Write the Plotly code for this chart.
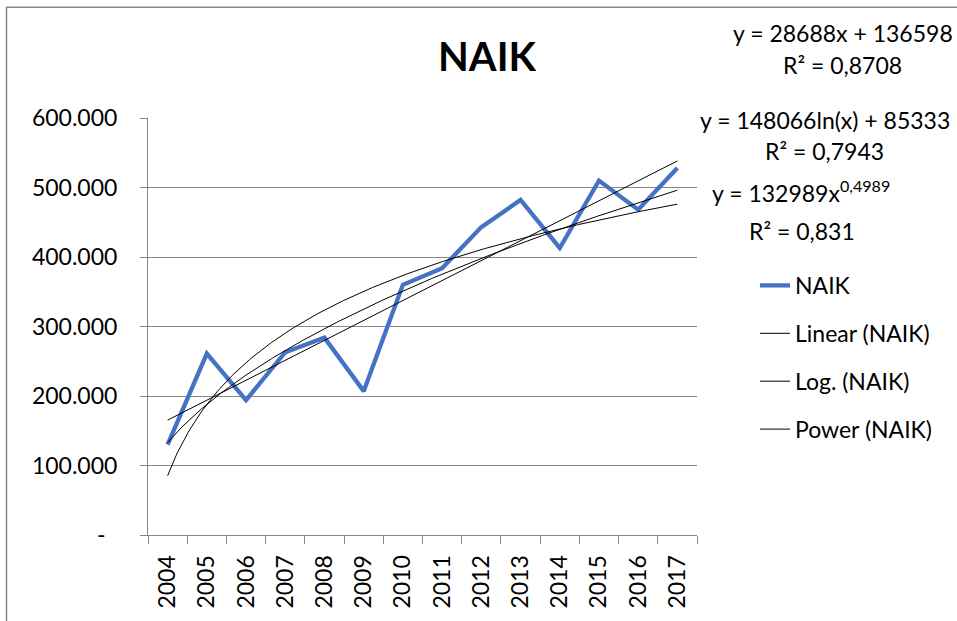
import numpy as np
import plotly.graph_objects as go

# ---- data ----
years = ["2004", "2005", "2006", "2007", "2008", "2009", "2010",
         "2011", "2012", "2013", "2014", "2015", "2016", "2017"]
naik = [130000, 261000, 194000, 263000, 284000, 207000, 360000,
        384000, 443000, 482000, 413000, 510000, 468000, 528000]

# trendline coefficients as displayed on the chart
lin_coef = [28688, 136598]      # y = a*x + b
log_coef = [148066, 85333]      # y = a*ln(x) + b
pow_coef = [132989, 0.4989]     # y = a*x^b
r2_values = ["0,8708", "0,7943", "0,831"]

y_tickvals = [0, 100000, 200000, 300000, 400000, 500000, 600000]
y_ticktext = ["-\u00a0\u00a0", "100.000", "200.000", "300.000", "400.000", "500.000", "600.000"]

# ---- layout geometry ----
W, H = 957, 621
L, R, T, B = 148, 697, 118, 538


def px(x):
    return (x - L) / (R - L)


def py(y):
    return (B - y) / (B - T)


xpos = np.arange(1, len(years) + 1)
xs = np.linspace(1, len(years), 300)
lin_y = lin_coef[0] * xs + lin_coef[1]
log_y = log_coef[0] * np.log(xs) + log_coef[1]
pow_y = pow_coef[0] * xs ** pow_coef[1]

FONT = "Lato"
GRID = "#878787"

fig = go.Figure()
fig.add_trace(go.Scatter(x=xpos, y=naik, mode="lines", name="NAIK",
                         line=dict(color="#4472C4", width=4.3), legendgroup="a"))
fig.add_trace(go.Scatter(x=xs, y=lin_y, mode="lines", name="Linear (NAIK)",
                         line=dict(color="black", width=1), legendgroup="b"))
fig.add_trace(go.Scatter(x=xs, y=log_y, mode="lines", name="Log. (NAIK)",
                         line=dict(color="black", width=1), legendgroup="c"))
fig.add_trace(go.Scatter(x=xs, y=pow_y, mode="lines", name="Power (NAIK)",
                         line=dict(color="black", width=1), legendgroup="d"))

eq_texts = [
    (f"y = {lin_coef[0]}x + {lin_coef[1]}", 843, 32),
    (f"R² = {r2_values[0]}", 842, 65),
    (f"y = {log_coef[0]}ln(x) + {log_coef[1]}", 824.5, 120),
    (f"R² = {r2_values[1]}", 824, 151),
    (f"y = {pow_coef[0]}x<sup>{str(pow_coef[1]).replace('.', ',')}</sup>", 801, 192),
    (f"R² = {r2_values[2]}", 802, 232),
]
annotations = [
    dict(text=t, x=px(ax), y=py(ay), xref="paper", yref="paper",
         xanchor="center", yanchor="middle", showarrow=False,
         font=dict(family=FONT, size=23, color="black"))
    for t, ax, ay in eq_texts
]

fig.update_layout(
    width=W, height=H,
    margin=dict(l=L, r=W - R, t=T, b=H - B, pad=0),
    paper_bgcolor="white", plot_bgcolor="white",
    font=dict(family=FONT, size=23, color="black"),
    title=dict(text="<b>NAIK</b>", x=487 / W, xref="container", xanchor="center",
               y=1 - 57 / H, yref="container", yanchor="middle",
               font=dict(family=FONT, size=40, color="black")),
    showlegend=True,
    legend=dict(x=px(755), y=py(265), xanchor="left", yanchor="top",
                bgcolor="rgba(0,0,0,0)", traceorder="grouped", tracegroupgap=15,
                font=dict(family=FONT, size=23, color="black")),
    annotations=annotations,
    shapes=[dict(type="rect", xref="paper", yref="paper",
                 x0=px(6.5), y0=py(630), x1=px(965), y1=py(6.5),
                 line=dict(color="#888888", width=1.5), fillcolor="rgba(0,0,0,0)",
                 layer="below")],
)

fig.update_xaxes(
    range=[0.5, len(years) + 0.5],
    tickmode="array", tickvals=xpos, ticktext=years, tickangle=-90,
    ticks="", showgrid=False, zeroline=False, ticklabelstandoff=10,
    showline=True, linecolor=GRID, linewidth=1,
    minor=dict(tickmode="array", tickvals=list(np.arange(0.5, len(years) + 1, 1.0)),
               ticks="outside", ticklen=8, tickcolor=GRID, tickwidth=1, showgrid=False),
    tickfont=dict(family=FONT, size=23, color="black"),
)
fig.update_yaxes(
    range=[0, 600000],
    tickmode="array", tickvals=y_tickvals, ticktext=y_ticktext,
    ticks="outside", ticklen=7, tickcolor=GRID, ticklabelstandoff=18,
    showgrid=True, gridcolor=GRID, gridwidth=1, zeroline=False,
    showline=True, linecolor=GRID, linewidth=1,
    tickfont=dict(family=FONT, size=23, color="black"),
)

fig.write_html("out.html", config={"displayModeBar": False},
               post_script="document.body.style.margin='0';document.body.style.overflow='hidden';")
